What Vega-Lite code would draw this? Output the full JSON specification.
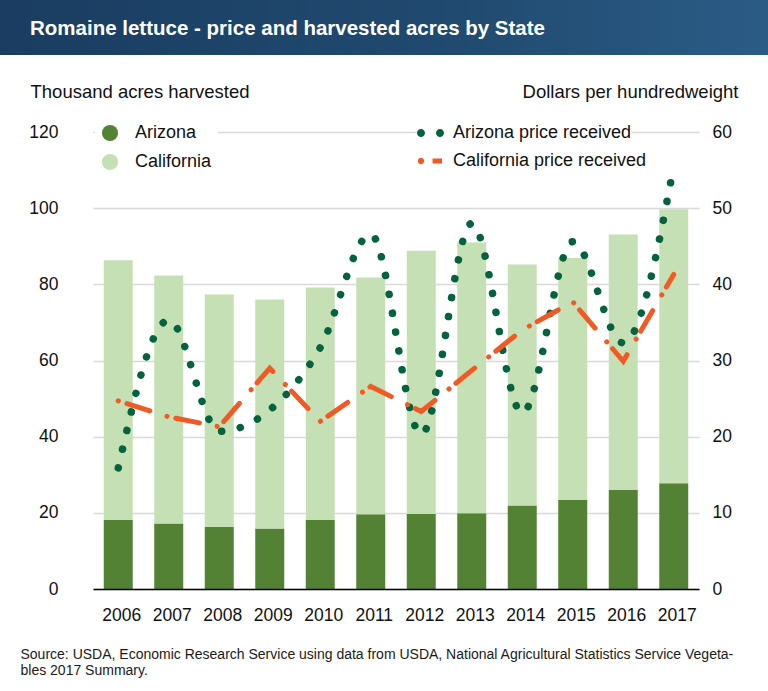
{
  "$schema": "https://vega.github.io/schema/vega-lite/v6.json",
  "padding": 0,
  "spacing": 27,
  "background": "white",
  "config": {
    "font": "Liberation Sans",
    "view": {"stroke": null}
  },
  "datasets": {
    "acres": [
      {"year": "2006", "state": "Arizona", "acres": 18.2},
      {"year": "2006", "state": "California", "acres": 68.1},
      {"year": "2007", "state": "Arizona", "acres": 17.2},
      {"year": "2007", "state": "California", "acres": 65.1},
      {"year": "2008", "state": "Arizona", "acres": 16.3},
      {"year": "2008", "state": "California", "acres": 61.0},
      {"year": "2009", "state": "Arizona", "acres": 15.9},
      {"year": "2009", "state": "California", "acres": 60.1},
      {"year": "2010", "state": "Arizona", "acres": 18.1},
      {"year": "2010", "state": "California", "acres": 61.1},
      {"year": "2011", "state": "Arizona", "acres": 19.6},
      {"year": "2011", "state": "California", "acres": 62.2},
      {"year": "2012", "state": "Arizona", "acres": 19.7},
      {"year": "2012", "state": "California", "acres": 69.1},
      {"year": "2013", "state": "Arizona", "acres": 19.9},
      {"year": "2013", "state": "California", "acres": 71.1},
      {"year": "2014", "state": "Arizona", "acres": 21.9},
      {"year": "2014", "state": "California", "acres": 63.3},
      {"year": "2015", "state": "Arizona", "acres": 23.4},
      {"year": "2015", "state": "California", "acres": 63.5},
      {"year": "2016", "state": "Arizona", "acres": 26.0},
      {"year": "2016", "state": "California", "acres": 67.1},
      {"year": "2017", "state": "Arizona", "acres": 27.8},
      {"year": "2017", "state": "California", "acres": 71.9}
    ],
    "prices": [
      {"year": "2006", "series": "Arizona price received", "price": 15.9},
      {"year": "2007", "series": "Arizona price received", "price": 35.3},
      {"year": "2008", "series": "Arizona price received", "price": 20.7},
      {"year": "2009", "series": "Arizona price received", "price": 23.5},
      {"year": "2010", "series": "Arizona price received", "price": 31.7},
      {"year": "2011", "series": "Arizona price received", "price": 46.6},
      {"year": "2012", "series": "Arizona price received", "price": 20.3},
      {"year": "2013", "series": "Arizona price received", "price": 48.0},
      {"year": "2014", "series": "Arizona price received", "price": 23.1},
      {"year": "2015", "series": "Arizona price received", "price": 45.6},
      {"year": "2016", "series": "Arizona price received", "price": 32.3},
      {"year": "2017", "series": "Arizona price received", "price": 55.5},
      {"year": "2006", "series": "California price received", "price": 24.7},
      {"year": "2007", "series": "California price received", "price": 22.6},
      {"year": "2008", "series": "California price received", "price": 21.3},
      {"year": "2009", "series": "California price received", "price": 29.0},
      {"year": "2010", "series": "California price received", "price": 22.0},
      {"year": "2011", "series": "California price received", "price": 26.6},
      {"year": "2012", "series": "California price received", "price": 23.3},
      {"year": "2013", "series": "California price received", "price": 28.7},
      {"year": "2014", "series": "California price received", "price": 34.0},
      {"year": "2015", "series": "California price received", "price": 37.7},
      {"year": "2016", "series": "California price received", "price": 29.9},
      {"year": "2017", "series": "California price received", "price": 41.3}
    ]
  },
  "vconcat": [
    {
      "width": 768,
      "height": 55,
      "data": {"values": [{"panel": "header"}]},
      "mark": {
        "type": "rect",
        "color": {
          "gradient": "linear",
          "x1": 0, "y1": 0, "x2": 1, "y2": 0,
          "stops": [
            {"offset": 0, "color": "#1a3d61"},
            {"offset": 0.6, "color": "#214a70"},
            {"offset": 1, "color": "#2b5c86"}
          ]
        }
      },
      "encoding": {},
      "title": {
        "text": "Romaine lettuce - price and harvested acres by State",
        "orient": "top",
        "anchor": "start",
        "frame": "group",
        "baseline": "alphabetic",
        "offset": -55,
        "dx": 30,
        "color": "white",
        "fontSize": 20.5,
        "fontWeight": "bold"
      }
    },
    {
      "spacing": 0,
      "hconcat": [
        {
          "width": 1,
          "height": 1,
          "data": {"values": []},
          "mark": {"type": "point"},
          "encoding": {}
        },
        {
          "width": 606,
          "height": 457,
          "resolve": {
            "scale": {"y": "independent", "color": "independent"}
          },
          "layer": [
            {
              "data": {"name": "acres"},
              "mark": {"type": "bar"},
              "encoding": {
                "x": {
                  "field": "year",
                  "type": "ordinal",
                  "scale": {"paddingInner": 0.426, "paddingOuter": 0.213},
                  "axis": {
                    "labelAngle": 0,
                    "labelFontSize": 17.5,
                    "labelColor": "#111",
                    "labelPadding": 17,
                    "labelOffset": 3.5,
                    "ticks": false,
                    "domainColor": "#000",
                    "domainWidth": 1.5,
                    "zindex": 1,
                    "title": [
                      "Source: USDA, Economic Research Service using data from USDA, National Agricultural Statistics Service Vegeta-",
                      "bles 2017 Summary."
                    ],
                    "titleX": -73,
                    "titleY": 69,
                    "titleAlign": "left",
                    "titleAnchor": "start",
                    "titleBaseline": "alphabetic",
                    "titleFontSize": 14,
                    "titleFontWeight": "normal",
                    "titleLineHeight": 16.3,
                    "titleColor": "#1a1a1a"
                  }
                },
                "y": {
                  "field": "acres",
                  "type": "quantitative",
                  "stack": "zero",
                  "scale": {"domain": [0, 120]},
                  "axis": {
                    "orient": "left",
                    "values": [0, 20, 40, 60, 80, 100, 120],
                    "labelFontSize": 17.5,
                    "labelColor": "#111",
                    "labelPadding": 35,
                    "ticks": false,
                    "domain": false,
                    "grid": true,
                    "gridColor": "#d9d9d9",
                    "gridWidth": 1.3,
                    "minExtent": 92,
                    "title": "Thousand acres harvested",
                    "titleAngle": 0,
                    "titleX": -63,
                    "titleY": -35,
                    "titleAlign": "left",
                    "titleBaseline": "alphabetic",
                    "titleFontSize": 18.5,
                    "titleFontWeight": "normal",
                    "titleColor": "#111"
                  }
                },
                "color": {
                  "field": "state",
                  "type": "nominal",
                  "scale": {"domain": ["Arizona", "California"], "range": ["#548235", "#c5e0b4"]},
                  "legend": {
                    "orient": "none",
                    "legendX": 2,
                    "legendY": -14,
                    "title": null,
                    "symbolType": "circle",
                    "symbolSize": 260,
                    "symbolStrokeWidth": 0,
                    "labelFontSize": 18,
                    "labelColor": "#111",
                    "labelOffset": 16,
                    "rowPadding": 11,
                    "padding": 6,
                    "fillColor": "white"
                  }
                },
                "order": {"field": "state", "sort": "ascending"}
              }
            },
            {
              "resolve": {"scale": {"color": "independent"}},
              "layer": [
                {
                  "data": {"name": "prices"},
                  "transform": [{"filter": "datum.series === 'Arizona price received'"}],
                  "mark": {
                    "type": "line",
                    "interpolate": "monotone",
                    "strokeCap": "round"
                  },
                  "encoding": {
                    "x": {"field": "year", "type": "ordinal"},
                    "y": {
                      "field": "price",
                      "type": "quantitative",
                      "scale": {"domain": [0, 60]},
                      "axis": {
                        "orient": "right",
                        "values": [0, 10, 20, 30, 40, 50, 60],
                        "labelFontSize": 17.5,
                        "labelColor": "#111",
                        "labelPadding": 13,
                        "ticks": false,
                        "domain": false,
                        "grid": false,
                        "title": "Dollars per hundredweight",
                        "titleAngle": 0,
                        "titleX": 39,
                        "titleY": -35,
                        "titleAlign": "right",
                        "titleBaseline": "alphabetic",
                        "titleFontSize": 18.5,
                        "titleFontWeight": "normal",
                        "titleColor": "#111"
                      }
                    },
                    "strokeDash": {"value": [0.1, 19]},
                    "strokeWidth": {"value": 7.5},
                    "color": {
                      "field": "series",
                      "type": "nominal",
                      "scale": {"range": ["#05623f"]},
                      "legend": {
                        "orient": "none",
                        "legendX": 328,
                        "legendY": -9.5,
                        "title": null,
                        "symbolType": "M -1.38,0 A 0.38,0.38 0 1,1 -0.62,0 A 0.38,0.38 0 1,1 -1.38,0 Z M 0.43,0 A 0.38,0.38 0 1,1 1.19,0 A 0.38,0.38 0 1,1 0.43,0 Z",
                        "symbolSize": 441,
                        "symbolFillColor": "#05623f",
                        "symbolStrokeWidth": 0,
                        "labelFontSize": 18,
                        "labelColor": "#111",
                        "labelOffset": 11,
                        "labelLimit": 400,
                        "padding": 0,
                        "fillColor": "white"
                      }
                    }
                  }
                },
                {
                  "data": {"name": "prices"},
                  "transform": [{"filter": "datum.series === 'California price received'"}],
                  "mark": {
                    "type": "line",
                    "interpolate": "linear",
                    "strokeCap": "round"
                  },
                  "encoding": {
                    "x": {"field": "year", "type": "ordinal"},
                    "y": {
                      "field": "price",
                      "type": "quantitative",
                      "scale": {"domain": [0, 60]},
                      "axis": {
                        "orient": "right",
                        "values": [0, 10, 20, 30, 40, 50, 60],
                        "labelFontSize": 17.5,
                        "labelColor": "#111",
                        "labelPadding": 13,
                        "ticks": false,
                        "domain": false,
                        "grid": false,
                        "title": "Dollars per hundredweight",
                        "titleAngle": 0,
                        "titleX": 39,
                        "titleY": -35,
                        "titleAlign": "right",
                        "titleBaseline": "alphabetic",
                        "titleFontSize": 18.5,
                        "titleFontWeight": "normal",
                        "titleColor": "#111"
                      }
                    },
                    "strokeDash": {"value": [0.1, 9, 24, 18]},
                    "strokeWidth": {"value": 5},
                    "color": {
                      "field": "series",
                      "type": "nominal",
                      "scale": {"range": ["#f15a24"]},
                      "legend": {
                        "orient": "none",
                        "legendX": 328,
                        "legendY": 18.5,
                        "title": null,
                        "symbolType": "M -1.3,0 A 0.3,0.3 0 1,1 -0.7,0 A 0.3,0.3 0 1,1 -1.3,0 Z M 0.1,-0.24 L 1.0,-0.24 L 1.0,0.24 L 0.1,0.24 Z",
                        "symbolSize": 441,
                        "symbolFillColor": "#f15a24",
                        "symbolStrokeWidth": 0,
                        "labelFontSize": 18,
                        "labelColor": "#111",
                        "labelOffset": 11,
                        "labelLimit": 400,
                        "padding": 0,
                        "fillColor": "white"
                      }
                    }
                  }
                }
              ]
            }
          ]
        }
      ]
    }
  ]
}
